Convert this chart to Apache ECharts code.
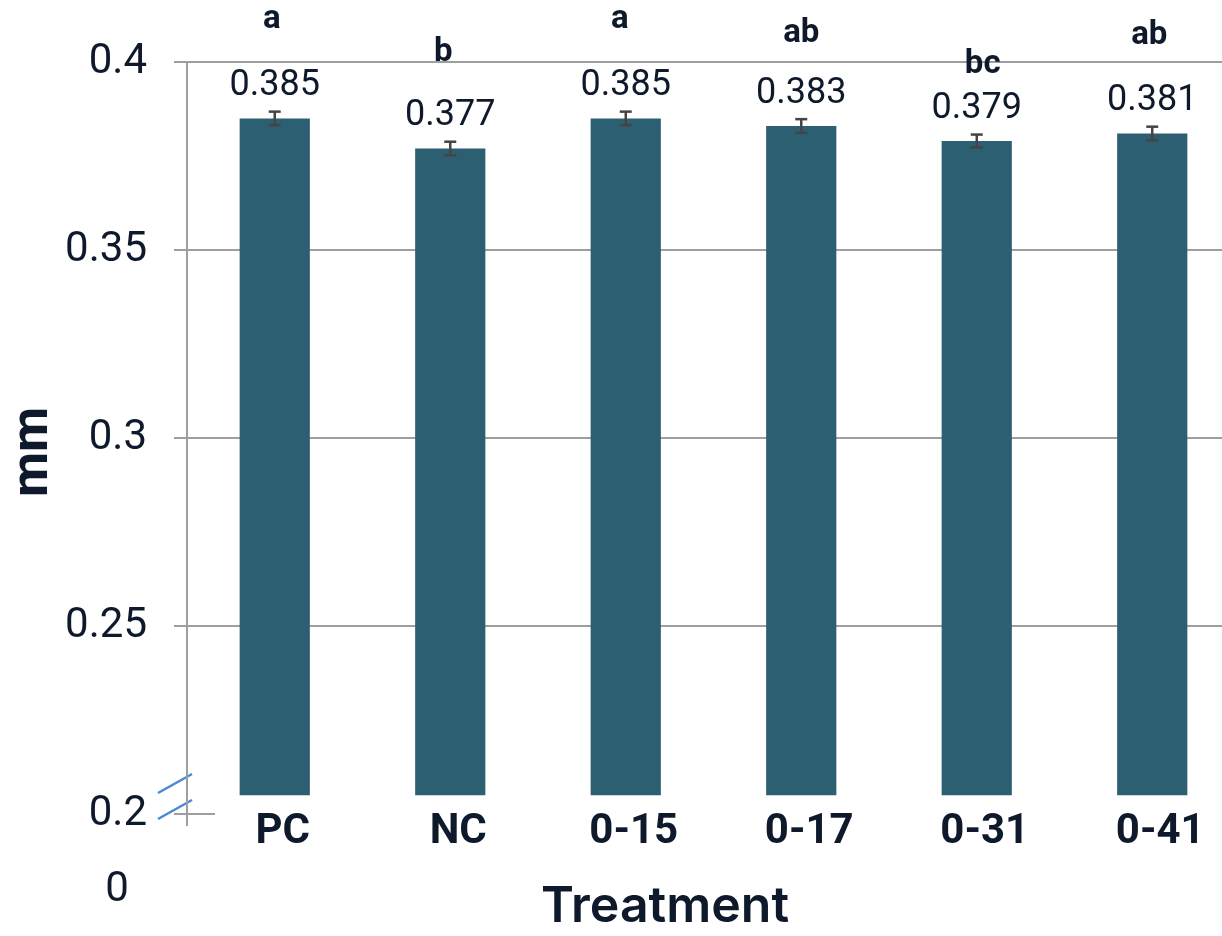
<!DOCTYPE html>
<html>
<head>
<meta charset="utf-8">
<script src="https://cdn.jsdelivr.net/npm/echarts@6/dist/echarts.min.js"></script>
<style>
  html, body { margin: 0; padding: 0; background: #ffffff; }
  #chart { width: 1222px; height: 936px; }
</style>
</head>
<body>
<div id="chart"></div>
<script>
// Treatment groups and their measured means (mm) with standard errors
const categories = ['PC', 'NC', '0-15', '0-17', '0-31', '0-41'];
const means = [0.385, 0.377, 0.385, 0.383, 0.379, 0.381];
const errors = [0.0018, 0.0018, 0.0018, 0.0018, 0.0017, 0.0018];
// Significance groupings
const letters = ['a', 'b', 'a', 'ab', 'bc', 'ab'];
// Value axis (broken axis: the visible part starts at 0.2)
const yMin = 0.2;
const yMax = 0.4;
const yStep = 0.05;
const barBase = 0.205;

// Layout nudges for the significance letters (pixels above the bar top, horizontal shift)
const letterLift = [88, 85, 88, 82, 66, 87];
const letterShift = [-3, -7, -6, 0, 6, -3];

const TEXT = '#0e1a2b';
const GRID = '#9e9e9e';
const BAR = '#2d5f72';
const ERR = '#444444';

const chart = echarts.init(document.getElementById('chart'), null, { renderer: 'canvas' });

const option = {
  backgroundColor: '#ffffff',
  animation: false,
  // the plot area runs a little past the right edge of the canvas
  grid: {
    left: 187, right: -18, top: 62, bottom: 122,
    containLabel: false,
    outerBoundsMode: 'none'
  },
  xAxis: {
    type: 'category',
    data: categories,
    axisLine: { show: false },
    axisTick: { show: false },
    axisLabel: {
      fontFamily: 'Roboto',
      fontWeight: 'bold',
      fontSize: 42,
      color: TEXT,
      margin: -3,
      padding: [0, 0, 0, 16]
    }
  },
  yAxis: {
    type: 'value',
    min: yMin,
    max: yMax,
    interval: yStep,
    axisLine: { show: true, lineStyle: { color: GRID, width: 2 } },
    axisTick: { show: true, length: 13, lineStyle: { color: GRID, width: 2 } },
    axisLabel: {
      fontFamily: 'Roboto',
      fontSize: 42,
      color: TEXT,
      margin: 40,
      formatter: v => String(+v.toFixed(2))
    },
    splitLine: {
      show: true,
      lineStyle: { color: ['rgba(0,0,0,0)', GRID, GRID, GRID, GRID], width: 2 }
    }
  },
  series: [
    {
      // bars rising from the break baseline, with their value labels
      type: 'custom',
      z: 2,
      data: means.map((v, i) => [i, v]),
      renderItem: (params, api) => {
        const i = api.value(0);
        const v = api.value(1);
        const top = api.coord([i, v]);
        const base = api.coord([i, barBase]);
        const w = api.size([1, 0])[0] * 0.4;
        return {
          type: 'group',
          children: [
            {
              type: 'rect',
              shape: { x: top[0] - w / 2, y: top[1], width: w, height: base[1] - top[1] },
              style: { fill: BAR }
            },
            {
              type: 'text',
              x: top[0],
              y: top[1] - 14,
              style: {
                text: String(v),
                fontFamily: 'Roboto',
                fontSize: 36,
                fill: TEXT,
                align: 'center',
                verticalAlign: 'bottom'
              }
            }
          ]
        };
      }
    },
    {
      // error bars
      type: 'custom',
      z: 3,
      data: means.map((v, i) => [i, v, errors[i]]),
      renderItem: (params, api) => {
        const i = api.value(0);
        const v = api.value(1);
        const e = api.value(2);
        const hi = api.coord([i, v + e]);
        const lo = api.coord([i, v - e]);
        const cap = 6;
        const st = { stroke: ERR, lineWidth: 2.5 };
        return {
          type: 'group',
          children: [
            { type: 'line', shape: { x1: hi[0], y1: hi[1], x2: lo[0], y2: lo[1] }, style: st },
            { type: 'line', shape: { x1: hi[0] - cap, y1: hi[1], x2: hi[0] + cap, y2: hi[1] }, style: st },
            { type: 'line', shape: { x1: lo[0] - cap, y1: lo[1], x2: lo[0] + cap, y2: lo[1] }, style: st }
          ]
        };
      }
    },
    {
      // significance letters
      type: 'custom',
      z: 1,
      data: means.map((v, i) => [i, v]),
      renderItem: (params, api) => {
        const i = api.value(0);
        const v = api.value(1);
        const top = api.coord([i, v]);
        return {
          type: 'text',
          x: top[0] + letterShift[i],
          y: top[1] - letterLift[i] + 6,
          style: {
            text: letters[i],
            fontFamily: 'Roboto',
            fontWeight: 'bold',
            fontSize: 33,
            fill: TEXT,
            align: 'center',
            verticalAlign: 'bottom'
          }
        };
      }
    }
  ],
  graphic: [
    // short stub of the category axis and its first tick
    { type: 'line', shape: { x1: 174, y1: 814, x2: 215, y2: 814 }, style: { stroke: GRID, lineWidth: 2 } },
    { type: 'line', shape: { x1: 187, y1: 813, x2: 187, y2: 826 }, style: { stroke: GRID, lineWidth: 2 } },
    // axis break marks
    { type: 'line', shape: { x1: 158, y1: 793, x2: 192, y2: 774 }, style: { stroke: '#4a88d8', lineWidth: 2.5 } },
    { type: 'line', shape: { x1: 158, y1: 819, x2: 192, y2: 800 }, style: { stroke: '#4a88d8', lineWidth: 2.5 } },
    // origin label below the break
    {
      type: 'text', x: 117, y: 890,
      style: { text: '0', fontFamily: 'Roboto', fontSize: 42, fill: TEXT, align: 'center', verticalAlign: 'middle' }
    },
    // axis titles
    {
      type: 'text', x: 34, y: 452, rotation: Math.PI / 2,
      style: { text: 'mm', fontFamily: 'Roboto', fontWeight: 'bold', fontSize: 52, fill: TEXT, align: 'center', verticalAlign: 'middle' }
    },
    {
      type: 'text', x: 665, y: 907,
      style: { text: 'Treatment', fontFamily: 'Inter', fontWeight: 600, fontSize: 50, fill: TEXT, align: 'center', verticalAlign: 'middle' }
    }
  ]
};

chart.setOption(option);
</script>
</body>
</html>
